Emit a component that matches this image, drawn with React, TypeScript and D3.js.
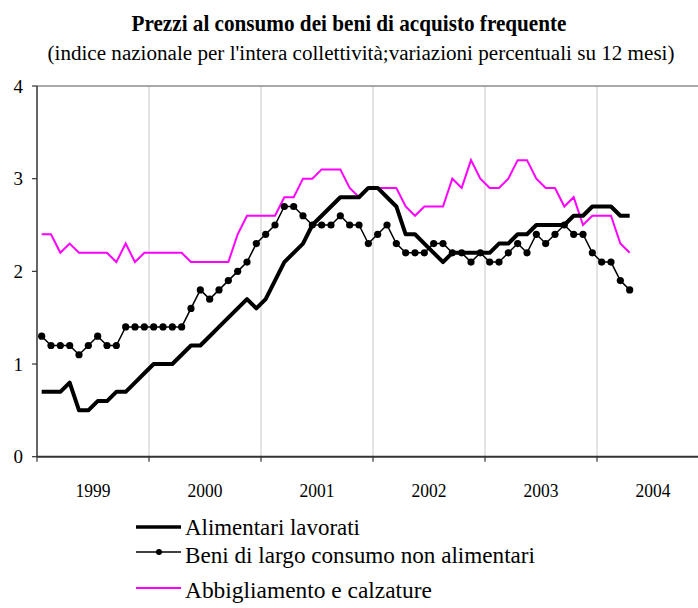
import React from "react";
import * as d3 from "d3";

const years = ["1999", "2000", "2001", "2002", "2003", "2004"];
const yTicks = [0, 1, 2, 3, 4];

// monthly values, Jan 1999 - Apr 2004
const alimentari = [
  0.7, 0.7, 0.7, 0.8, 0.5, 0.5, 0.6, 0.6, 0.7, 0.7, 0.8, 0.9,
  1.0, 1.0, 1.0, 1.1, 1.2, 1.2, 1.3, 1.4, 1.5, 1.6, 1.7, 1.6,
  1.7, 1.9, 2.1, 2.2, 2.3, 2.5, 2.6, 2.7, 2.8, 2.8, 2.8, 2.9,
  2.9, 2.8, 2.7, 2.4, 2.4, 2.3, 2.2, 2.1, 2.2, 2.2, 2.2, 2.2,
  2.2, 2.3, 2.3, 2.4, 2.4, 2.5, 2.5, 2.5, 2.5, 2.6, 2.6, 2.7,
  2.7, 2.7, 2.6, 2.6,
];
const beni = [
  1.3, 1.2, 1.2, 1.2, 1.1, 1.2, 1.3, 1.2, 1.2, 1.4, 1.4, 1.4,
  1.4, 1.4, 1.4, 1.4, 1.6, 1.8, 1.7, 1.8, 1.9, 2.0, 2.1, 2.3,
  2.4, 2.5, 2.7, 2.7, 2.6, 2.5, 2.5, 2.5, 2.6, 2.5, 2.5, 2.3,
  2.4, 2.5, 2.3, 2.2, 2.2, 2.2, 2.3, 2.3, 2.2, 2.2, 2.1, 2.2,
  2.1, 2.1, 2.2, 2.3, 2.2, 2.4, 2.3, 2.4, 2.5, 2.4, 2.4, 2.2,
  2.1, 2.1, 1.9, 1.8,
];
const abbigliamento = [
  2.4, 2.4, 2.2, 2.3, 2.2, 2.2, 2.2, 2.2, 2.1, 2.3, 2.1, 2.2,
  2.2, 2.2, 2.2, 2.2, 2.1, 2.1, 2.1, 2.1, 2.1, 2.4, 2.6, 2.6,
  2.6, 2.6, 2.8, 2.8, 3.0, 3.0, 3.1, 3.1, 3.1, 2.9, 2.8, 2.9,
  2.9, 2.9, 2.9, 2.7, 2.6, 2.7, 2.7, 2.7, 3.0, 2.9, 3.2, 3.0,
  2.9, 2.9, 3.0, 3.2, 3.2, 3.0, 2.9, 2.9, 2.7, 2.8, 2.5, 2.6,
  2.6, 2.6, 2.3, 2.2,
];

const seriesNames = [
  "Alimentari lavorati",
  "Beni di largo consumo non alimentari",
  "Abbigliamento e calzature",
];

const FONT = '"Liberation Serif", "DejaVu Serif", "Times New Roman", serif';

export default function App() {
  const left = 37;
  const monthsTotal = years.length * 12;
  const x = d3
    .scaleBand<number>()
    .domain(d3.range(monthsTotal))
    .range([left, left + 112 * years.length])
    .padding(0);
  const cx = (i: number) => (x(i) as number) + x.bandwidth() / 2;
  const y = d3.scaleLinear().domain([0, 4]).range([456.7, 86]);

  const line = d3
    .line<number>()
    .x((_, i) => cx(i))
    .y((d) => y(d));

  const yearStart = (k: number) => x(k * 12) as number;
  const ts = { fontFamily: FONT };

  return (
    <svg
      width={698}
      height={608}
      style={{ position: "absolute", left: 0, top: 0, background: "#fff", fontFamily: FONT }}
    >
      <rect x={0} y={0} width={698} height={608} fill="#fff" />
      {/* title */}
      <text style={ts} x={349} y={31} textAnchor="middle" fontWeight="bold" fontSize={23} textLength={435} lengthAdjust="spacingAndGlyphs">
        Prezzi al consumo dei beni di acquisto frequente
      </text>
      <text style={ts} x={361} y={60} textAnchor="middle" fontSize={20} textLength={627} lengthAdjust="spacingAndGlyphs">
        (indice nazionale per l'intera collettività;variazioni percentuali su 12 mesi)
      </text>

      {/* vertical gridlines */}
      {years.map((_, k) =>
        k === 0 ? null : (
          <line key={"g" + k} x1={yearStart(k)} x2={yearStart(k)} y1={y(4)} y2={y(0)} stroke="#c8c8c8" strokeWidth={1} />
        )
      )}
      {/* top border */}
      <line x1={left} x2={698} y1={y(4)} y2={y(4)} stroke="#8c8c8c" strokeWidth={1.5} />

      {/* y axis */}
      <line x1={left} x2={left} y1={y(4)} y2={y(0)} stroke="#333" strokeWidth={1.5} />
      {yTicks.map((t) => (
        <g key={"yt" + t}>
          <line x1={left - 5} x2={left} y1={y(t)} y2={y(t)} stroke="#333" strokeWidth={1.2} />
          <text style={ts} x={23} y={y(t) + 6.5} textAnchor="end" fontSize={19}>
            {t}
          </text>
        </g>
      ))}

      {/* x axis */}
      <line x1={left} x2={698} y1={y(0)} y2={y(0)} stroke="#333" strokeWidth={2} />
      {years.map((yr, k) => (
        <g key={"xt" + yr}>
          <line x1={yearStart(k)} x2={yearStart(k)} y1={y(0)} y2={y(0) + 5} stroke="#333" strokeWidth={1.2} />
          <text style={ts} x={yearStart(k) + 56} y={497} textAnchor="middle" fontSize={19.5} textLength={35} lengthAdjust="spacingAndGlyphs">
            {yr}
          </text>
        </g>
      ))}

      {/* series */}
      <path d={line(abbigliamento) || ""} fill="none" stroke="#ff00ff" strokeWidth={2} strokeLinejoin="miter" />
      <path d={line(alimentari) || ""} fill="none" stroke="#000" strokeWidth={4} strokeLinejoin="round" />
      <path d={line(beni) || ""} fill="none" stroke="#000" strokeWidth={1.5} />
      {beni.map((v, i) => (
        <circle key={"b" + i} cx={cx(i)} cy={y(v)} r={3.6} fill="#000" />
      ))}

      {/* legend */}
      <line x1={136} x2={181} y1={527} y2={527} stroke="#000" strokeWidth={3.5} />
      <text style={ts} x={185} y={535} fontSize={24} textLength={175} lengthAdjust="spacingAndGlyphs">
        {seriesNames[0]}
      </text>
      <line x1={136} x2={181} y1={552} y2={552} stroke="#000" strokeWidth={1.5} />
      <circle cx={159} cy={552} r={3} fill="#000" />
      <text style={ts} x={185} y={563} fontSize={24} textLength={350} lengthAdjust="spacingAndGlyphs">
        {seriesNames[1]}
      </text>
      <line x1={136} x2={181} y1={588} y2={588} stroke="#ff00ff" strokeWidth={2} />
      <text style={ts} x={185} y={598} fontSize={24} textLength={247} lengthAdjust="spacingAndGlyphs">
        {seriesNames[2]}
      </text>
    </svg>
  );
}
